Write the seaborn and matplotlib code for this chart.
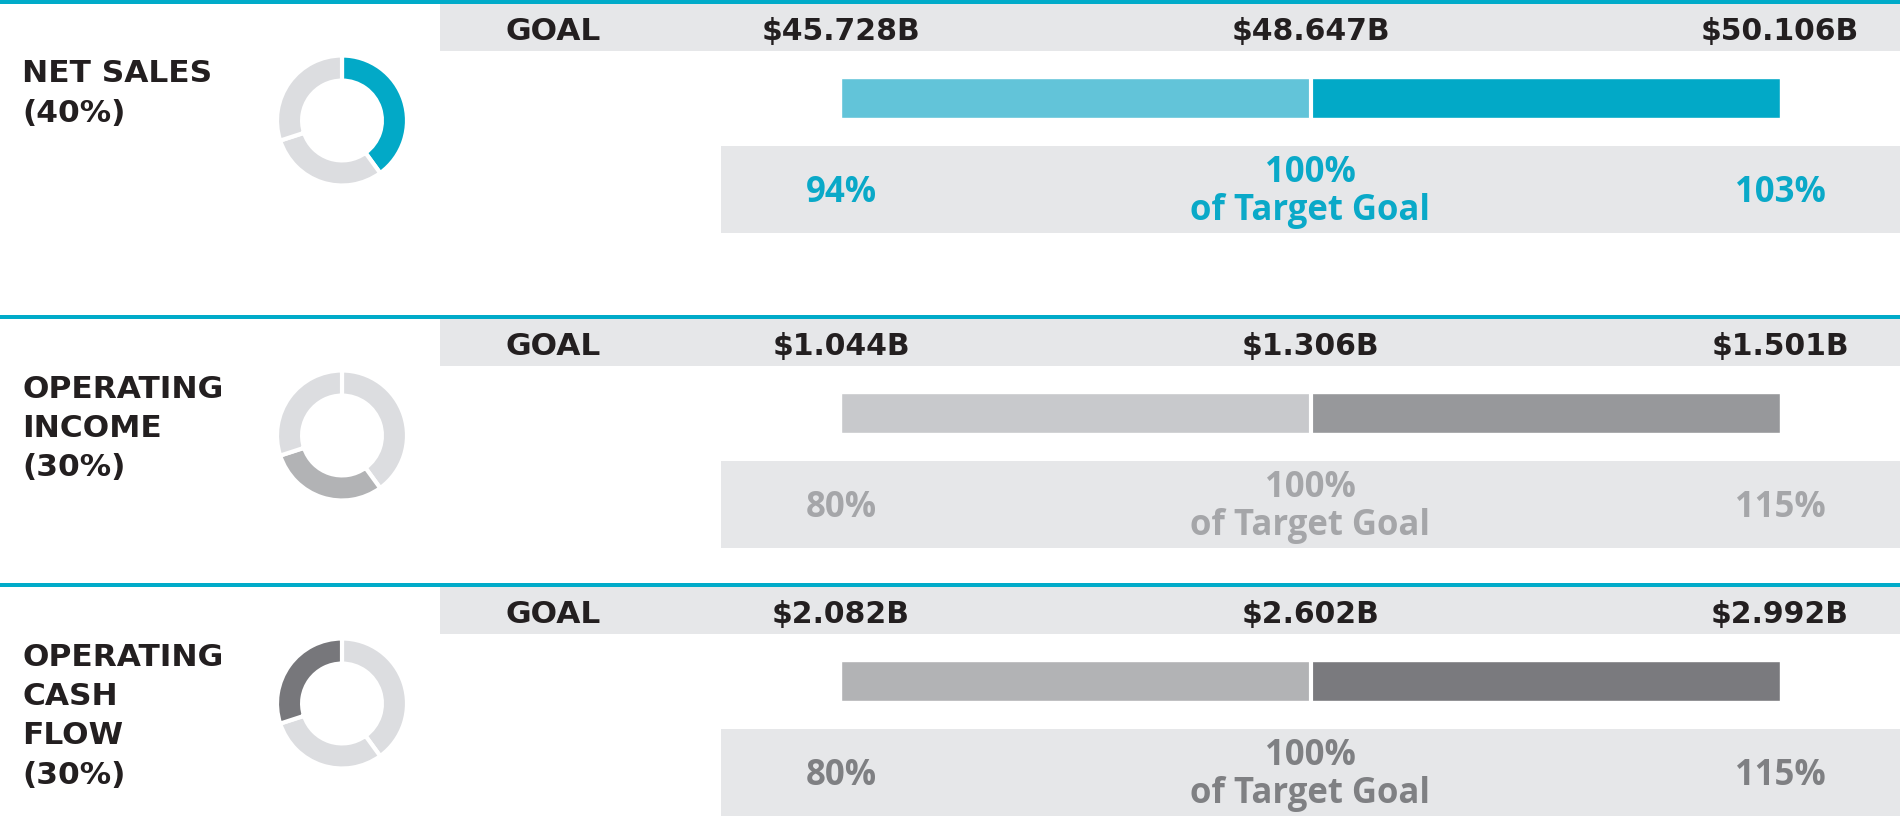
import matplotlib
matplotlib.use("Agg")
import matplotlib.pyplot as plt
import matplotlib.transforms as mtransforms
from matplotlib.patches import Rectangle
import numpy as np
import pandas as pd
import seaborn as sns

# ---------------- data ----------------
metric_titles = [["NET SALES", "(40%)"],
                 ["OPERATING", "INCOME", "(30%)"],
                 ["OPERATING", "CASH", "FLOW", "(30%)"]]
metric_weights = [40, 30, 30]
goal_threshold = ["$45.728B", "$1.044B", "$2.082B"]
goal_target = ["$48.647B", "$1.306B", "$2.602B"]
goal_maximum = ["$50.106B", "$1.501B", "$2.992B"]
pct_threshold = ["94%", "80%", "80%"]
pct_target = ["100%", "100%", "100%"]
pct_maximum = ["103%", "115%", "115%"]
scale_points = [0, 1, 2]          # threshold, target, maximum on the schematic scale

# ---------------- styles ----------------
CYAN_LINE = "#00abc9"
BAND = "#e6e7e9"
DONUT_BASE = "#dcdde0"
TITLE_C = "#231f20"
bar_light = ["#62c4d9", "#c8c9cc", "#b2b3b5"]
bar_dark = ["#02a9c7", "#97989b", "#7a7a7e"]
donut_hi = ["#02a9c7", "#b2b3b5", "#77777b"]
pct_color = ["#0aa9c8", "#a5a6a9", "#7f8083"]

W, H = 1900, 816
sns.set_theme(style="white")
plt.rcParams["font.family"] = ["Open Sans", "DejaVu Sans"]
HEAD_FONT = ["DejaVu Sans"]
PCT_FONT = ["Open Sans", "DejaVu Sans"]

fig = plt.figure(figsize=(W / 100, H / 100), dpi=100)
bg = fig.add_axes([0, 0, 1, 1])
bg.set_xlim(0, W)
bg.set_ylim(H, 0)
bg.axis("off")


def px_axes(x0, y0, x1, y1):
    return fig.add_axes([x0 / W, 1 - y1 / H, (x1 - x0) / W, (y1 - y0) / H])


section_tops = [2, 317, 585]
BAR_X0, BAR_X1 = 841, 1780

for i, t in enumerate(section_tops):
    # cyan divider line
    bg.add_patch(Rectangle((0, t - 2), W, 4, color=CYAN_LINE, lw=0))
    # goal band
    bg.add_patch(Rectangle((440, t + 2), W - 440, 47, color=BAND, lw=0))
    # lower band
    bg.add_patch(Rectangle((721, t + 144), W - 721, 87, color=BAND, lw=0))

    # title
    for k, line in enumerate(metric_titles[i]):
        bg.text(22, t + 80.5 + 39.5 * k, line, fontsize=22.5, fontweight="bold",
                family=HEAD_FONT, color=TITLE_C, ha="left", va="baseline")

    bg.text(553, t + 38, "GOAL", fontsize=22.5, fontweight="bold", family=HEAD_FONT,
            color=TITLE_C, ha="center", va="baseline")

    # bar
    axb = px_axes(BAR_X0, t + 76, BAR_X1, t + 116)
    seg_df = pd.DataFrame({"row": ["bar", "bar"],
                           "end": [scale_points[2], scale_points[1]],
                           "part": ["upper", "lower"]})
    sns.barplot(data=seg_df, x="end", y="row", hue="part",
                palette={"upper": bar_dark[i], "lower": bar_light[i]},
                dodge=False, width=1.0, legend=False, ax=axb, saturation=1)
    axb.axvline(scale_points[1], color="white", lw=3)
    axb.set_xlim(scale_points[0], scale_points[2])
    axb.set_ylim(0.5, -0.5)
    axb.axis("off")

    tr = mtransforms.blended_transform_factory(axb.transData, bg.transData)
    for xp, lab in zip(scale_points, [goal_threshold[i], goal_target[i], goal_maximum[i]]):
        bg.text(xp, t + 38, lab, transform=tr, fontsize=21.5, fontweight="bold",
                family=HEAD_FONT, color=TITLE_C, ha="center", va="baseline")
    pkw = dict(transform=tr, fontsize=25, fontweight="bold", family=PCT_FONT,
               color=pct_color[i], ha="center", va="baseline")
    bg.text(scale_points[0], t + 200, pct_threshold[i], **pkw)
    bg.text(scale_points[2], t + 200, pct_maximum[i], **pkw)
    bg.text(scale_points[1], t + 180, pct_target[i], **pkw)
    bg.text(scale_points[1], t + 218, "of Target Goal", **pkw)

    # donut
    cy = t + 118.5
    r = 65 * 1.03
    axd = px_axes(342 - r, cy - r, 342 + r, cy + r)
    cols = [DONUT_BASE] * len(metric_weights)
    cols[i] = donut_hi[i]
    axd.pie(metric_weights, colors=cols, startangle=90, counterclock=False,
            wedgeprops=dict(width=0.386, edgecolor="white", linewidth=3))
    axd.set_xlim(-1.03, 1.03)
    axd.set_ylim(-1.03, 1.03)
    axd.set_aspect("equal")
    axd.axis("off")

fig.savefig("out.png", dpi=100, facecolor="white")
